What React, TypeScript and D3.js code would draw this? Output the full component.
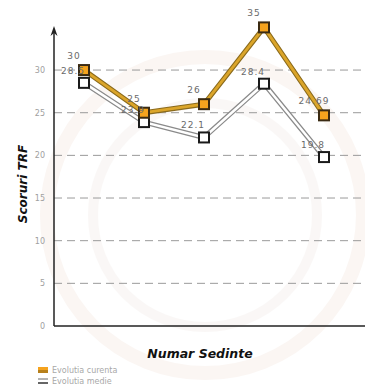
import React from "react";
import * as d3 from "d3";

const sessions = ["1", "2", "3", "4", "5"];
const currentScores = [30, 25, 26, 35, 24.69];
const averageScores = [28.5, 23.9, 22.1, 28.4, 19.8];
const yTicks = [0, 5, 10, 15, 20, 25, 30];
const seriesNames = ["Evolutia curenta", "Evolutia medie"];

const W = 365;
const H = 390;

export default function App() {
  const x = d3.scalePoint<string>().domain(sessions).range([54, 354]).padding(0.5);
  const y = d3.scaleLinear().domain([0, 35]).range([326, 27.4]);
  const line = d3
    .line<number>()
    .x((_, i) => x(sessions[i]) as number)
    .y((d) => y(d));

  const labelFont = { fontFamily: "DejaVu Sans", fontSize: 9, fill: "#6a6a6a", letterSpacing: 1 };

  return (
    <svg
      width={W}
      height={H}
      style={{ position: "absolute", left: 0, top: 0, background: "#fff" }}
    >
      {/* faint background emblem */}
      <g fill="none" opacity={0.3}>
        <circle cx={205} cy={215} r={158} stroke="#f3e2d8" strokeWidth={14} />
        <circle cx={205} cy={215} r={112} stroke="#f0e8e4" strokeWidth={10} />
      </g>

      {/* horizontal grid */}
      {yTicks
        .filter((t) => t > 0)
        .map((t) => (
          <line
            key={t}
            x1={54}
            x2={W}
            y1={y(t)}
            y2={y(t)}
            stroke="#9a9a9a"
            strokeWidth={1}
            strokeDasharray="8,5"
          />
        ))}

      {/* y tick labels */}
      {yTicks.map((t) => (
        <text
          key={t}
          x={45}
          y={y(t) + 3}
          textAnchor="end"
          style={{ fontFamily: "DejaVu Sans", fontSize: 8, fill: "#a0a0a0" }}
        >
          {t}
        </text>
      ))}

      {/* axes */}
      <line x1={54} x2={W} y1={y(0)} y2={y(0)} stroke="#222" strokeWidth={1.5} />
      <line x1={54} x2={54} y1={y(0)} y2={30} stroke="#222" strokeWidth={1.5} />
      <path d="M54,26 L50.5,36 L54,33 L57.5,36 Z" fill="#222" />

      {/* average series */}
      <path d={line(averageScores) ?? ""} fill="none" stroke="#8a8a8a" strokeWidth={5} strokeLinejoin="round" />
      <path d={line(averageScores) ?? ""} fill="none" stroke="#ffffff" strokeWidth={2.5} strokeLinejoin="round" />

      {/* current series */}
      <path d={line(currentScores) ?? ""} fill="none" stroke="#8a6a1c" strokeWidth={5} strokeLinejoin="round" />
      <path d={line(currentScores) ?? ""} fill="none" stroke="#dba52a" strokeWidth={2.8} strokeLinejoin="round" />

      {averageScores.map((v, i) => (
        <rect
          key={"a" + i}
          x={(x(sessions[i]) as number) - 5}
          y={y(v) - 5}
          width={10}
          height={10}
          fill="#fff"
          stroke="#1a1a1a"
          strokeWidth={2}
        />
      ))}
      {currentScores.map((v, i) => (
        <rect
          key={"c" + i}
          x={(x(sessions[i]) as number) - 5}
          y={y(v) - 5}
          width={10}
          height={10}
          fill="#f5a31e"
          stroke="#3a2a12"
          strokeWidth={2}
        />
      ))}

      {/* value labels */}
      {currentScores.map((v, i) => (
        <text
          key={"lc" + i}
          x={(x(sessions[i]) as number) - 10}
          y={y(v) - 11}
          textAnchor="middle"
          style={labelFont}
        >
          {v}
        </text>
      ))}
      {averageScores.map((v, i) => (
        <text
          key={"la" + i}
          x={(x(sessions[i]) as number) - 11}
          y={y(v) - 9}
          textAnchor="middle"
          style={labelFont}
        >
          {v}
        </text>
      ))}

      {/* axis titles */}
      <text
        transform="translate(27,184) rotate(-90)"
        textAnchor="middle"
        style={{ fontFamily: "DejaVu Sans", fontSize: 12, fontWeight: "bold", fontStyle: "italic", fill: "#111" }}
      >
        Scoruri TRF
      </text>
      <text
        x={200}
        y={358}
        textAnchor="middle"
        style={{ fontFamily: "DejaVu Sans", fontSize: 12.5, fontWeight: "bold", fontStyle: "italic", fill: "#111" }}
      >
        Numar Sedinte
      </text>

      {/* legend */}
      <rect x={38} y={367} width={10} height={3} fill="#f5a31e" />
      <rect x={38} y={370} width={10} height={3} fill="#b7801c" />
      <text x={52} y={373} style={{ fontFamily: "DejaVu Sans", fontSize: 8, fill: "#a8a8a8" }}>
        {seriesNames[0]}
      </text>
      <line x1={38} x2={48} y1={379} y2={379} stroke="#666" strokeWidth={1} />
      <line x1={38} x2={48} y1={383} y2={383} stroke="#333" strokeWidth={1.5} />
      <text x={52} y={384} style={{ fontFamily: "DejaVu Sans", fontSize: 8, fill: "#a8a8a8" }}>
        {seriesNames[1]}
      </text>
    </svg>
  );
}
